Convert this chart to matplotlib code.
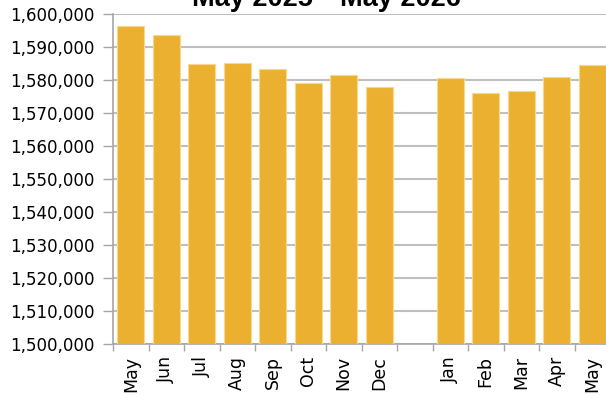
import numpy as np
import matplotlib.pyplot as plt
from matplotlib.ticker import FuncFormatter

months = ['May', 'Jun', 'Jul', 'Aug', 'Sep', 'Oct', 'Nov', 'Dec',
          'Jan', 'Feb', 'Mar', 'Apr', 'May']
values = [1596330, 1593670, 1584890, 1585110, 1583490, 1579300, 1581650,
          1577980, 1580730, 1576150, 1576760, 1581130, 1584500]
# one empty slot separates Dec from Jan
positions = [0, 1, 2, 3, 4, 5, 6, 7, 9, 10, 11, 12, 13]

bar_color = '#EBB02F'
grid_color = '#BFBFBF'

fig = plt.figure(figsize=(6.06, 3.95), dpi=100)
ax = fig.add_axes([113 / 606, 50.7 / 395, 497 / 606, 330 / 395])

ax.bar(positions, values, width=0.75, color=bar_color,
       edgecolor='#F6D88E', linewidth=0.8, zorder=3)

ax.set_ylim(1500000, 1600000)
ax.set_xlim(-0.5, 13.5)
ax.set_yticks(np.arange(1500000, 1600001, 10000))
ax.yaxis.set_major_formatter(FuncFormatter(lambda v, p: f'{int(v):,}'))
ax.grid(axis='y', color=grid_color, linewidth=1.5, zorder=0)

# tick marks sit between the bars, month names under each bar
ax.set_xticks(np.arange(-0.5, 14, 1))
ax.set_xticklabels([])
ax.set_xticks(positions, minor=True)
ax.set_xticklabels(months, minor=True, rotation=90, fontsize=12.5)
ax.tick_params(axis='x', which='minor', length=0, pad=8.5)
ax.tick_params(axis='x', which='major', length=5, color='#A6A6A6', width=1)
ax.tick_params(axis='y', length=7, color='#A6A6A6', width=1,
               labelsize=12, pad=6)

for side in ['top', 'right']:
    ax.spines[side].set_visible(False)
for side in ['left', 'bottom']:
    ax.spines[side].set_color('#A6A6A6')
    ax.spines[side].set_linewidth(1.2)

fig.text(326 / 606, 389 / 395, 'May 2025\u2014May 2026', ha='center',
         va='baseline', fontsize=19.5, fontweight='bold',
         family='Liberation Sans')

fig.savefig('out.png', dpi=100)
